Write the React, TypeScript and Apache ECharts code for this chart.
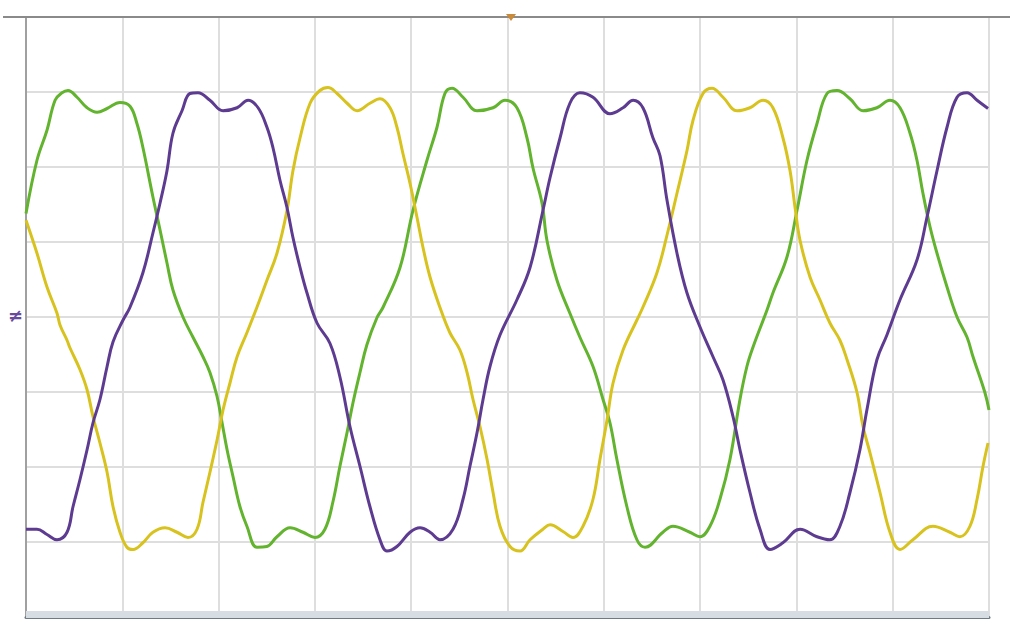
import React, { useEffect, useRef } from "react";
import * as echarts from "echarts";

// time in ms (5 ms/div), voltage in V (100 V/div)
const xTicks = [0, 5, 10, 15, 20, 25, 30, 35, 40, 45, 50];
const yTicks = [-400, -300, -200, -100, 0, 100, 200, 300, 400];

const greenT = [0, 0.57, 1.09, 1.51, 1.87, 2.18, 2.65, 3.17, 3.69, 4.21, 4.88, 5.4, 5.76, 6.07, 6.59, 6.96, 7.32, 7.63, 8.15, 8.67, 9.19, 9.55, 9.92, 10.18, 10.44, 10.75, 11.11, 11.47, 11.99, 12.51, 13.03, 13.71, 14.38, 15.0, 15.52, 15.94, 16.3, 16.67, 16.98, 17.34, 17.7, 18.22, 18.54, 19.42, 20.09, 20.82, 21.34, 21.75, 22.12, 22.69, 23.42, 24.25, 24.87, 25.49, 26.01, 26.32, 26.79, 27.05, 27.57, 28.24, 28.76, 29.44, 29.96, 30.32, 30.68, 31.2, 31.72, 32.14, 33.07, 33.59, 34.47, 34.99, 35.51, 36.03, 36.55, 37.07, 37.43, 37.75, 38.47, 38.78, 39.51, 40.03, 40.55, 41.07, 41.59, 42.11, 42.78, 43.46, 44.18, 44.86, 45.38, 45.9, 46.26, 46.57, 46.94, 47.3, 47.82, 48.34, 48.86, 49.17, 49.79, 50];
const greenV = [138, 209, 249, 289, 299, 302, 293, 279, 273, 278, 286, 281, 258, 226, 160, 116, 72, 36, 0, -27, -53, -74, -106, -141, -177, -213, -253, -279, -307, -306, -293, -281, -287, -294, -283, -246, -199, -154, -114, -74, -37, -1, 13, 66, 142, 209, 253, 298, 305, 293, 275, 279, 289, 279, 239, 199, 152, 102, 49, 5, -27, -66, -110, -141, -190, -253, -297, -307, -287, -279, -287, -293, -279, -243, -190, -110, -66, -40, 9, 32, 80, 142, 209, 258, 298, 302, 291, 275, 279, 289, 279, 245, 209, 165, 120, 85, 40, 0, -27, -53, -101, -124];

const purpleT = [0, 0.57, 1.09, 1.61, 2.13, 2.44, 2.8, 3.17, 3.48, 3.84, 4.21, 4.52, 5.04, 5.4, 6.07, 6.59, 6.96, 7.32, 7.63, 8.1, 8.51, 8.93, 9.55, 10.23, 10.96, 11.53, 12.05, 12.51, 12.82, 13.19, 13.55, 13.86, 14.23, 14.59, 15.11, 15.78, 16.3, 16.82, 17.34, 17.86, 18.38, 18.74, 19.26, 19.94, 20.46, 20.98, 21.49, 22.17, 22.69, 23.05, 23.42, 23.73, 24.09, 24.61, 25.49, 26.17, 26.84, 27.21, 27.73, 28.24, 28.76, 29.44, 30.32, 31.0, 31.52, 32.03, 32.55, 32.92, 33.28, 33.8, 34.32, 34.99, 35.67, 36.19, 36.71, 37.07, 37.59, 38.11, 38.63, 39.3, 40.19, 41.07, 41.74, 42.26, 42.78, 43.3, 43.66, 44.18, 44.7, 45.38, 46.26, 46.78, 47.3, 47.82, 48.34, 48.86, 49.38, 49.95];
const purpleV = [-283, -283, -290, -297, -287, -253, -217, -177, -141, -110, -66, -33, -4, 13, 59, 112, 152, 195, 245, 275, 298, 299, 289, 275, 279, 289, 279, 253, 226, 182, 146, 106, 66, 32, -8, -35, -80, -146, -199, -253, -297, -312, -306, -287, -281, -287, -297, -283, -243, -199, -154, -110, -66, -24, 23, 66, 142, 186, 239, 285, 299, 293, 271, 279, 289, 279, 239, 215, 156, 85, 32, -13, -53, -84, -133, -177, -234, -283, -310, -301, -283, -293, -297, -279, -234, -177, -124, -57, -24, 23, 76, 133, 195, 253, 293, 299, 289, 278];

const yellowT = [0, 0.57, 1.09, 1.61, 1.77, 2.13, 2.28, 2.8, 3.17, 3.48, 3.84, 4.21, 4.52, 4.88, 5.24, 5.56, 6.07, 6.59, 7.22, 7.84, 8.41, 8.88, 9.19, 9.55, 9.92, 10.23, 10.59, 10.96, 11.47, 11.99, 12.51, 13.03, 13.55, 13.86, 14.23, 14.75, 15.26, 15.68, 16.15, 16.67, 17.19, 17.86, 18.38, 18.9, 19.26, 19.57, 19.94, 20.3, 20.61, 20.98, 21.49, 22.01, 22.53, 22.9, 23.21, 23.57, 23.94, 24.25, 24.61, 25.13, 25.65, 26.17, 26.84, 27.21, 27.88, 28.4, 28.92, 29.44, 29.8, 30.17, 30.48, 31.0, 31.72, 32.03, 32.76, 33.28, 33.8, 34.32, 34.63, 35.15, 35.62, 36.19, 36.92, 37.59, 38.27, 38.78, 39.3, 39.67, 39.93, 40.19, 40.71, 41.22, 41.74, 42.26, 42.63, 43.15, 43.46, 43.82, 44.34, 44.86, 45.38, 46.05, 47.09, 47.97, 48.49, 49.01, 49.38, 49.69, 49.95];
const yellowV = [129, 85, 40, 5, -11, -31, -41, -70, -97, -133, -168, -207, -253, -287, -307, -310, -301, -287, -281, -287, -294, -283, -247, -207, -164, -124, -88, -53, -21, 13, 49, 85, 142, 195, 239, 285, 302, 306, 298, 285, 275, 285, 291, 279, 253, 218, 178, 133, 93, 53, 13, -21, -44, -74, -110, -146, -190, -234, -279, -306, -312, -297, -283, -277, -286, -294, -279, -243, -190, -137, -88, -44, -4, 13, 59, 109, 165, 222, 262, 298, 305, 293, 275, 279, 289, 279, 239, 195, 146, 102, 53, 23, -8, -31, -57, -101, -146, -181, -234, -287, -310, -297, -279, -287, -293, -279, -243, -199, -168];

const zip = (t: number[], v: number[]) => t.map((x, i) => [x, v[i]]);

export default function App() {
  const ref = useRef<HTMLDivElement>(null);
  useEffect(() => {
    if (!ref.current) return;
    const chart = echarts.init(ref.current, undefined, { renderer: "svg" });
    const lineSeries = (name: string, data: number[][], color: string) => ({
      name,
      type: "line",
      data,
      showSymbol: false,
      smooth: 0.4,
      lineStyle: { color, width: 3 },
      itemStyle: { color },
      z: 3,
    });
    chart.setOption({
      animation: false,
      backgroundColor: "#ffffff",
      grid: {
        left: 26,
        right: 27,
        top: 17,
        bottom: 20,
        show: true,
        borderColor: "#9a9a9a",
        borderWidth: 1.5,
      },
      xAxis: {
        type: "value",
        min: xTicks[0],
        max: xTicks[xTicks.length - 1],
        interval: 5,
        axisLabel: { show: false },
        axisTick: { show: false },
        axisLine: { show: true, onZero: false, lineStyle: { color: "#707a84", width: 3 } },
        splitLine: { show: true, lineStyle: { color: "#dedede", width: 2 } },
      },
      yAxis: {
        type: "value",
        min: yTicks[0],
        max: yTicks[yTicks.length - 1],
        interval: 100,
        axisLabel: { show: false },
        axisTick: { show: false },
        axisLine: { show: true, onZero: false, lineStyle: { color: "#a0a0a0", width: 2 } },
        splitLine: { show: true, lineStyle: { color: "#dedede", width: 2 } },
      },
      graphic: [
        { type: "line", shape: { x1: 3, y1: 17, x2: 1010, y2: 17 }, style: { stroke: "#8a8a8a", lineWidth: 2 }, z: 10 },
        { type: "rect", shape: { x: 26, y: 611, width: 963, height: 7 }, style: { fill: "#d6dde3" }, z: 1 },
        { type: "polygon", shape: { points: [[506, 14], [516, 14], [511, 21]] }, style: { fill: "#c98a3a" }, z: 10 },
        { type: "text", x: 8, y: 306, style: { text: "≠", fill: "#6a4a9c", font: "bold 18px DejaVu Sans" }, z: 10 },
      ],
      series: [
        lineSeries("A", zip(greenT, greenV), "#62b32e"),
        lineSeries("B", zip(yellowT, yellowV), "#d8c21e"),
        lineSeries("C", zip(purpleT, purpleV), "#5d3b91"),
      ],
    });
    return () => chart.dispose();
  }, []);
  return (
    <div
      ref={ref}
      style={{ position: "fixed", left: 0, top: 0, width: 1016, height: 637, background: "#fff" }}
    />
  );
}
